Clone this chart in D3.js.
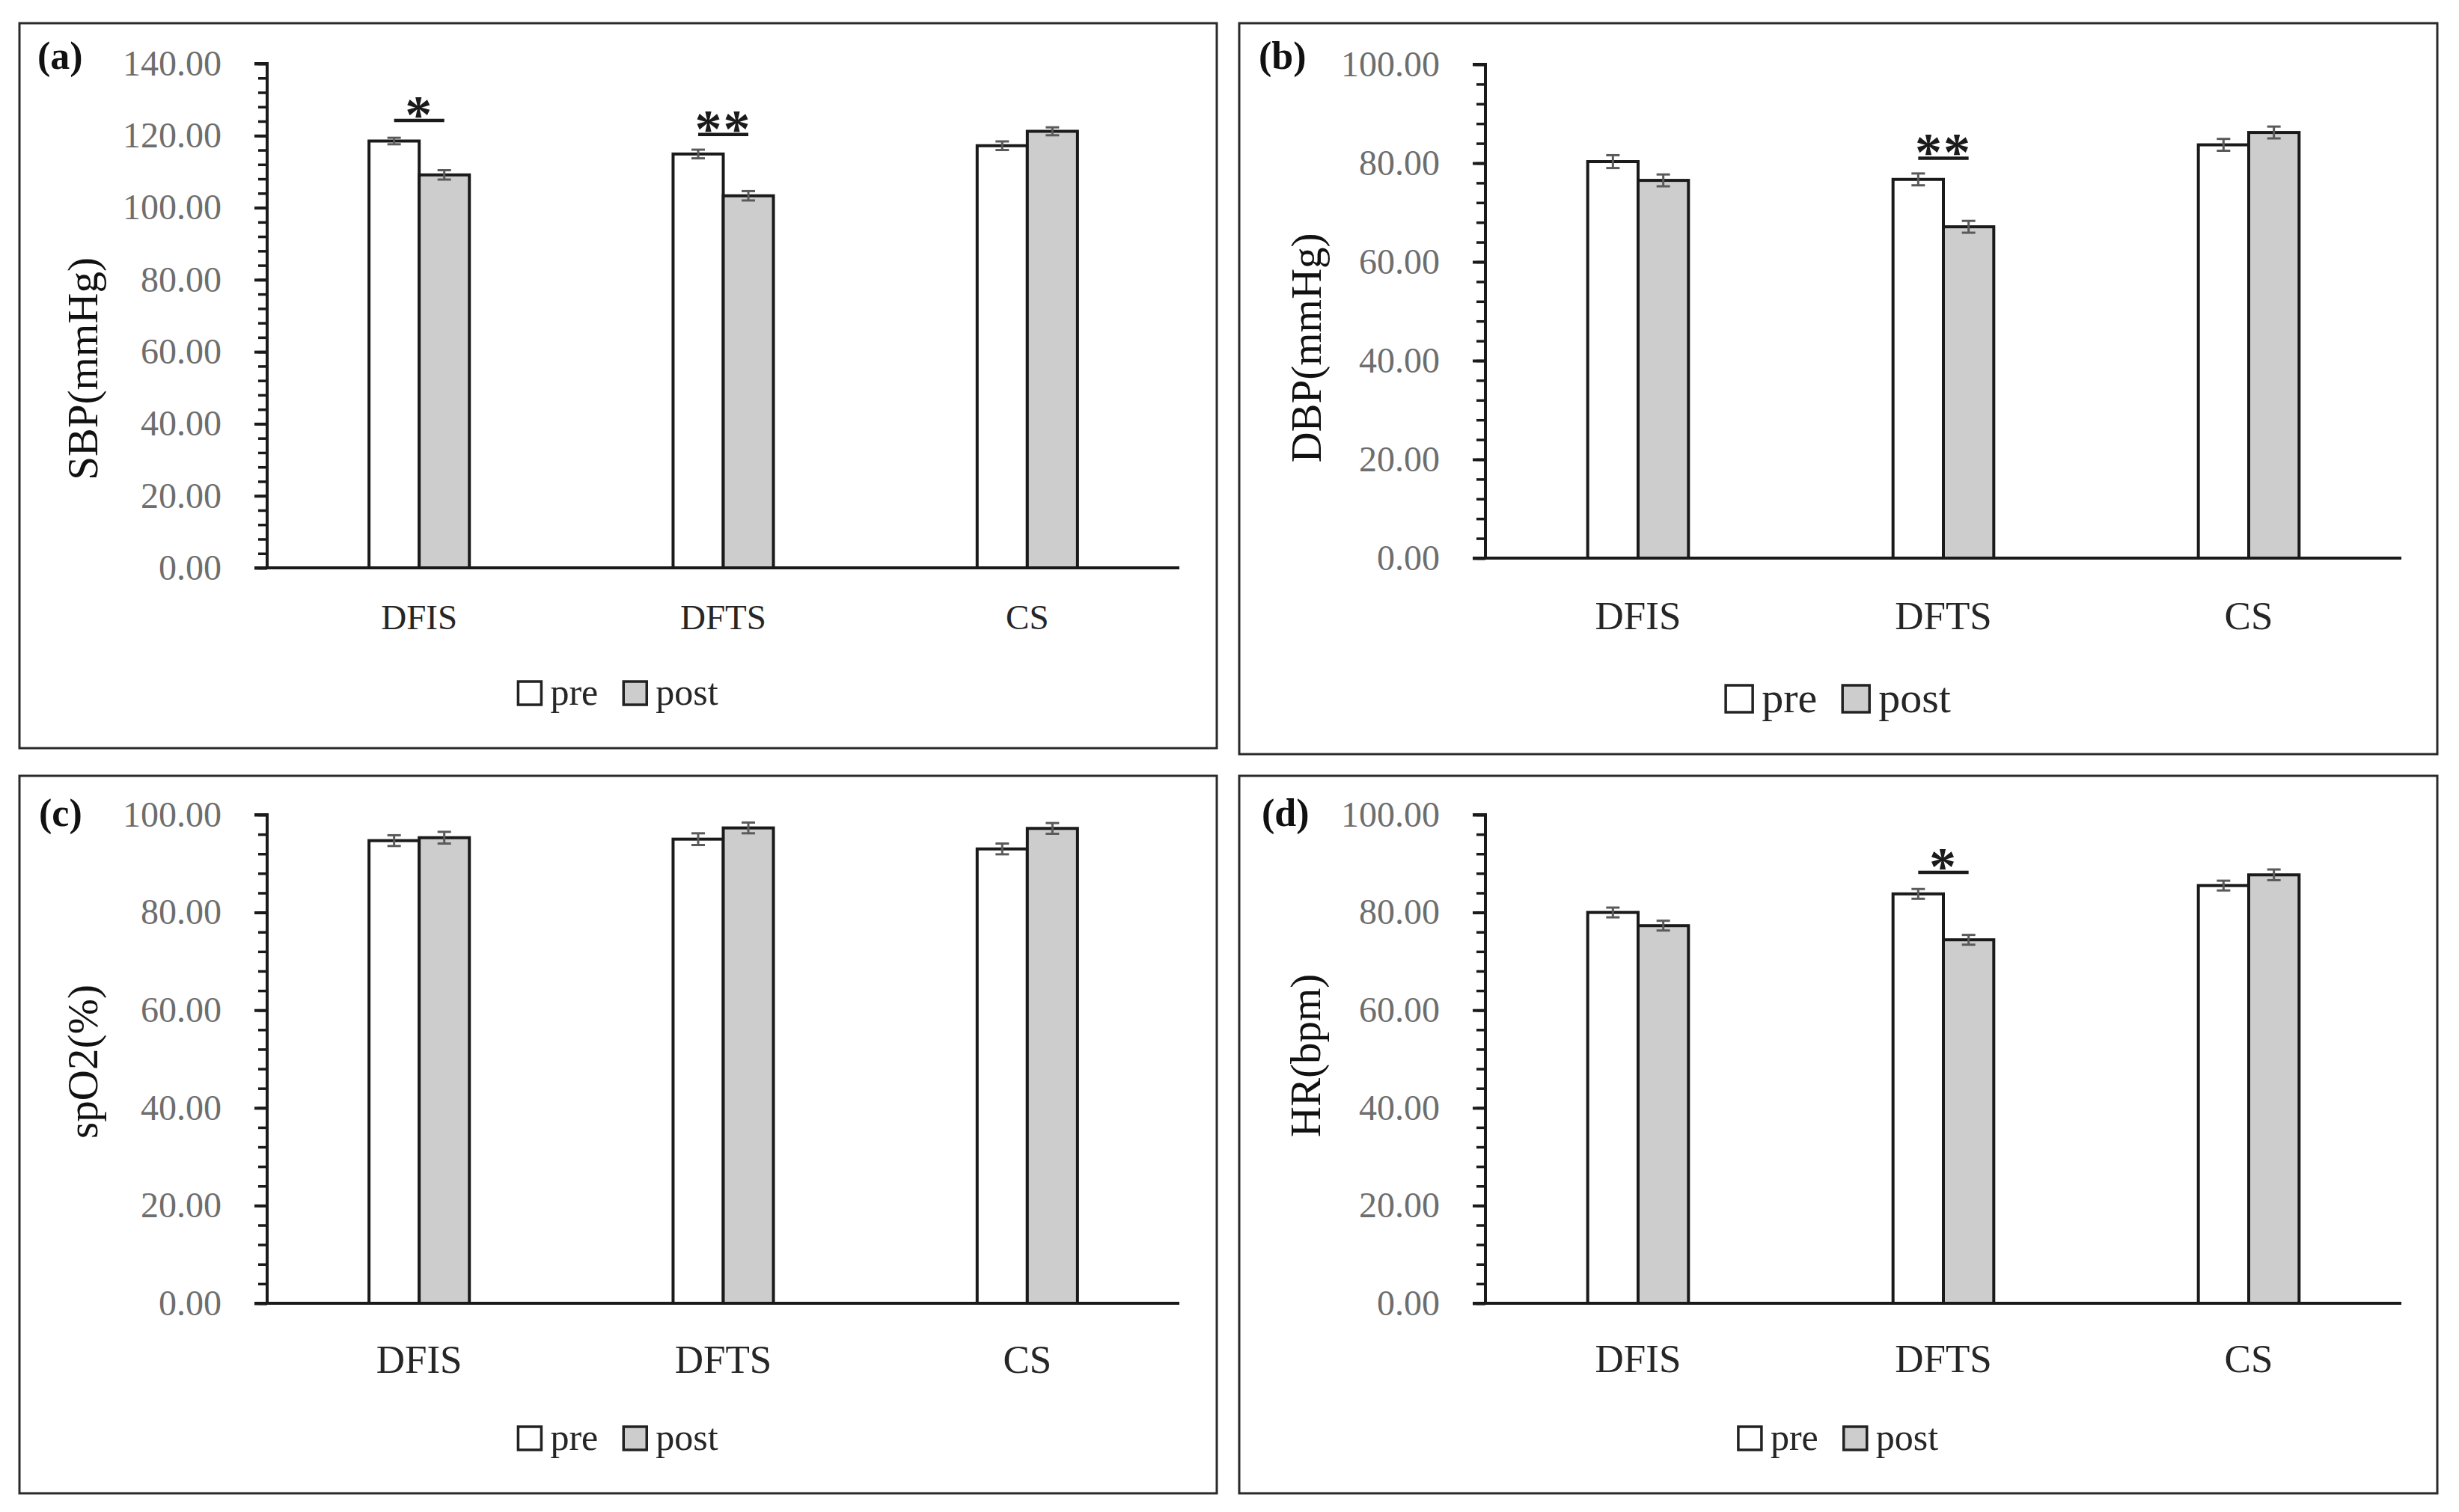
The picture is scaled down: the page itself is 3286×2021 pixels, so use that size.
<!DOCTYPE html>
<html>
<head>
<meta charset="utf-8">
<script src="https://cdn.jsdelivr.net/npm/d3@7"></script>
<style>
  body { margin: 0; background: #fff; }
  text { font-family: "Liberation Serif", "DejaVu Serif", serif; }
</style>
</head>
<body>
<div id="chart"></div>
<script>
// data
const categories = ["DFIS", "DFTS", "CS"];
const seriesNames = ["pre", "post"];

const sbpPre = [118.5, 114.9, 117.2];
const sbpPost = [109.1, 103.3, 121.2];
const sbpErrPre = [0.9, 1.2, 1.2];
const sbpErrPost = [1.3, 1.3, 1.1];
const sbpTicks = [0, 20, 40, 60, 80, 100, 120, 140];
const sbpSig = [{ cat: "DFIS", mark: "*", at: 124.2 }, { cat: "DFTS", mark: "**", at: 120.3 }];

const dbpPre = [80.3, 76.7, 83.7];
const dbpPost = [76.5, 67.1, 86.2];
const dbpErrPre = [1.3, 1.2, 1.2];
const dbpErrPost = [1.2, 1.2, 1.2];
const dbpTicks = [0, 20, 40, 60, 80, 100];
const dbpSig = [{ cat: "DFTS", mark: "**", at: 81.0 }];

const spo2Pre = [94.7, 95.0, 93.0];
const spo2Post = [95.3, 97.3, 97.2];
const spo2ErrPre = [1.1, 1.2, 1.1];
const spo2ErrPost = [1.2, 1.1, 1.1];
const spo2Ticks = [0, 20, 40, 60, 80, 100];
const spo2Sig = [];

const hrPre = [80.0, 83.8, 85.5];
const hrPost = [77.3, 74.4, 87.7];
const hrErrPre = [1.0, 1.0, 1.0];
const hrErrPost = [1.0, 1.0, 1.1];
const hrTicks = [0, 20, 40, 60, 80, 100];
const hrSig = [{ cat: "DFTS", mark: "*", at: 88.2 }];

const minorStep = 4;

// panel layout
const panels = [
  { tag: "(a)", title: "SBP(mmHg)", pre: sbpPre, post: sbpPost, errPre: sbpErrPre, errPost: sbpErrPost,
    ticks: sbpTicks, sig: sbpSig,
    frame: [26, 31, 1626, 1000], plot: [357, 85, 1576, 759],
    catSize: 47, catDy: 82, legSize: 50, legY: 942, titleX: 110, titleY: 493, tagX: 50, tagY: 92 },
  { tag: "(b)", title: "DBP(mmHg)", pre: dbpPre, post: dbpPost, errPre: dbpErrPre, errPost: dbpErrPost,
    ticks: dbpTicks, sig: dbpSig,
    frame: [1656, 31, 3257, 1008], plot: [1985, 86, 3209, 746],
    catSize: 53, catDy: 95, legSize: 58, legY: 952, titleX: 1745, titleY: 465, tagX: 1682, tagY: 92 },
  { tag: "(c)", title: "spO2(%)", pre: spo2Pre, post: spo2Post, errPre: spo2ErrPre, errPost: spo2ErrPost,
    ticks: spo2Ticks, sig: spo2Sig,
    frame: [26, 1037, 1626, 1996], plot: [357, 1089, 1576, 1742],
    catSize: 53, catDy: 93, legSize: 50, legY: 1938, titleX: 110, titleY: 1419, tagX: 52, tagY: 1104 },
  { tag: "(d)", title: "HR(bpm)", pre: hrPre, post: hrPost, errPre: hrErrPre, errPost: hrErrPost,
    ticks: hrTicks, sig: hrSig,
    frame: [1656, 1037, 3257, 1996], plot: [1985, 1089, 3209, 1742],
    catSize: 53, catDy: 92, legSize: 50, legY: 1938, titleX: 1744, titleY: 1411, tagX: 1686, tagY: 1104 }
];

const width = 3286, height = 2021;
const fills = { pre: "#ffffff", post: "#cdcdcd" };

const svg = d3.select("#chart").append("svg")
  .attr("width", width).attr("height", height)
  .style("background", "#fff");

panels.forEach(p => {
  const g = svg.append("g");
  const [fx0, fy0, fx1, fy1] = p.frame;
  const [px0, py0, px1, py1] = p.plot;

  g.append("rect")
    .attr("x", fx0).attr("y", fy0)
    .attr("width", fx1 - fx0).attr("height", fy1 - fy0)
    .attr("fill", "#fff").attr("stroke", "#2a2a2a").attr("stroke-width", 3);

  const yMax = d3.max(p.ticks);
  const y = d3.scaleLinear().domain([0, yMax]).range([py1, py0]);
  const x0 = d3.scaleBand().domain(categories).range([px0, px1]);
  const barW = x0.bandwidth() * 0.165;
  const x1 = d3.scaleBand().domain(seriesNames).range([-barW, barW]);

  // minor ticks
  g.append("g")
    .attr("transform", `translate(${px0},0)`)
    .call(d3.axisLeft(y).tickValues(d3.range(0, yMax + 0.001, minorStep)).tickSize(12).tickFormat(""))
    .call(a => a.select(".domain").remove())
    .call(a => a.selectAll("line").attr("stroke", "#1a1a1a").attr("stroke-width", 3.5));

  // major ticks + labels
  const yAxis = g.append("g")
    .attr("transform", `translate(${px0},0)`)
    .call(d3.axisLeft(y).tickValues(p.ticks).tickSize(17).tickPadding(44).tickFormat(d3.format(".2f")));
  yAxis.select(".domain").attr("stroke", "#1a1a1a").attr("stroke-width", 4).attr("d", `M-17,${py0}H0V${py1}`);
  yAxis.selectAll("line").attr("stroke", "#1a1a1a").attr("stroke-width", 4);
  yAxis.selectAll("text")
    .style("font-family", "Liberation Serif, serif")
    .attr("font-size", 48).attr("fill", "#6e6e6e");

  // bars
  const rows = categories.map((c, i) => ({
    cat: c,
    vals: [
      { s: "pre", v: p.pre[i], e: p.errPre[i] },
      { s: "post", v: p.post[i], e: p.errPost[i] }
    ]
  }));

  const grp = g.append("g").selectAll("g")
    .data(rows).join("g")
    .attr("transform", d => `translate(${x0(d.cat) + x0.bandwidth() / 2},0)`);

  grp.selectAll("rect")
    .data(d => d.vals).join("rect")
    .attr("x", d => x1(d.s))
    .attr("y", d => y(d.v))
    .attr("width", x1.bandwidth())
    .attr("height", d => y(0) - y(d.v))
    .attr("fill", d => fills[d.s])
    .attr("stroke", "#1a1a1a").attr("stroke-width", 4);

  // error bars
  const eb = grp.selectAll("g.err")
    .data(d => d.vals).join("g").attr("class", "err")
    .attr("stroke", "#5a5a5a").attr("stroke-width", 3);
  const cx = d => x1(d.s) + x1.bandwidth() / 2;
  eb.append("line")
    .attr("x1", cx).attr("x2", cx)
    .attr("y1", d => y(d.v + d.e)).attr("y2", d => y(d.v - d.e));
  eb.append("line")
    .attr("x1", d => cx(d) - 9).attr("x2", d => cx(d) + 9)
    .attr("y1", d => y(d.v + d.e)).attr("y2", d => y(d.v + d.e));
  eb.append("line")
    .attr("x1", d => cx(d) - 9).attr("x2", d => cx(d) + 9)
    .attr("y1", d => y(d.v - d.e)).attr("y2", d => y(d.v - d.e));

  // x axis line
  g.append("line")
    .attr("x1", px0 - 17).attr("x2", px1)
    .attr("y1", y(0)).attr("y2", y(0))
    .attr("stroke", "#1a1a1a").attr("stroke-width", 4);

  // category labels
  g.append("g").selectAll("text")
    .data(categories).join("text")
    .attr("x", d => x0(d) + x0.bandwidth() / 2)
    .attr("y", y(0) + p.catDy)
    .attr("text-anchor", "middle")
    .attr("font-size", p.catSize)
    .attr("fill", "#262626")
    .text(d => d);

  // significance marks
  const sg = g.append("g").selectAll("g")
    .data(p.sig).join("g");
  sg.append("line")
    .attr("x1", d => x0(d.cat) + x0.bandwidth() / 2 + x1("pre") + x1.bandwidth() / 2)
    .attr("x2", d => x0(d.cat) + x0.bandwidth() / 2 + x1("post") + x1.bandwidth() / 2)
    .attr("y1", d => y(d.at)).attr("y2", d => y(d.at))
    .attr("stroke", "#1a1a1a").attr("stroke-width", 4.5);
  sg.append("text")
    .attr("x", d => x0(d.cat) + x0.bandwidth() / 2)
    .attr("y", d => y(d.at) + 16)
    .attr("text-anchor", "middle")
    .attr("font-size", 72)
    .attr("font-weight", "bold")
    .attr("letter-spacing", 2)
    .attr("fill", "#1a1a1a")
    .text(d => d.mark);

  // axis title
  g.append("text")
    .attr("transform", `translate(${p.titleX},${p.titleY}) rotate(-90)`)
    .attr("text-anchor", "middle")
    .attr("dominant-baseline", "central")
    .attr("font-size", 57)
    .attr("fill", "#111")
    .text(p.title);

  // panel tag
  g.append("text")
    .attr("x", p.tagX).attr("y", p.tagY)
    .attr("font-size", 52).attr("font-weight", "bold")
    .attr("fill", "#111")
    .text(p.tag);

  // legend
  const box = Math.round(p.legSize * 0.62);
  const leg = g.append("g");
  let cursor = 0;
  seriesNames.forEach((s, i) => {
    const it = leg.append("g").attr("transform", `translate(${cursor},0)`);
    it.append("rect")
      .attr("x", 0).attr("y", -box)
      .attr("width", box).attr("height", box)
      .attr("fill", fills[s]).attr("stroke", "#222").attr("stroke-width", 3.5);
    const t = it.append("text")
      .attr("x", box + 12).attr("y", 0)
      .attr("font-size", p.legSize)
      .attr("fill", "#262626")
      .text(s);
    cursor += box + 12 + t.node().getComputedTextLength() + (i === 0 ? 34 : 0);
  });
  const legCenter = (fx0 + fx1) / 2;
  leg.attr("transform", `translate(${legCenter - cursor / 2},${p.legY})`);
});
</script>
</body>
</html>
